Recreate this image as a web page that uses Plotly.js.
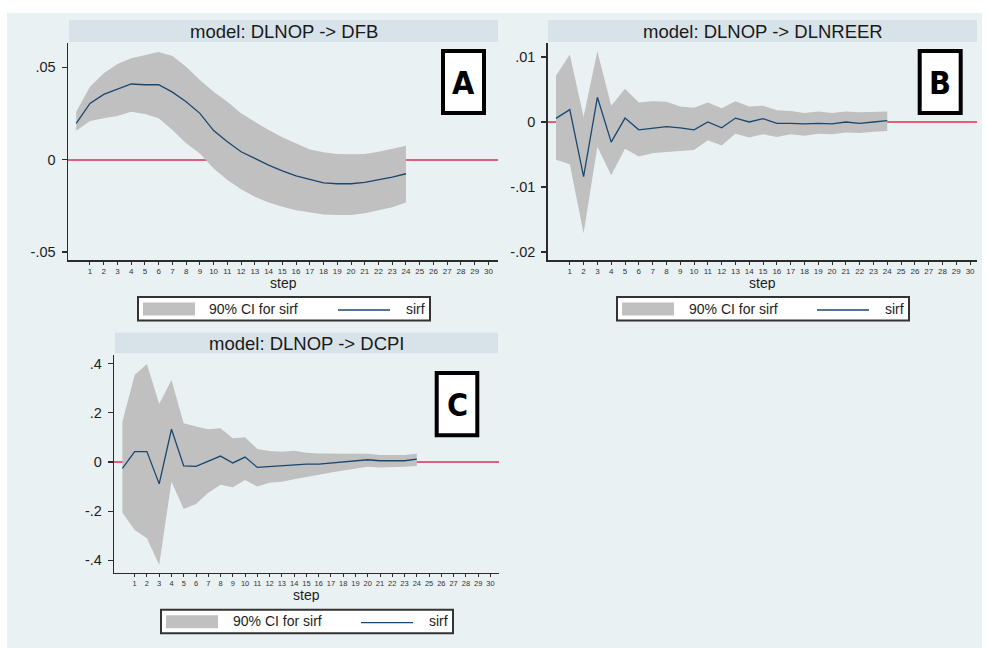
<!DOCTYPE html>
<html>
<head>
<meta charset="utf-8">
<script src="https://cdn.plot.ly/plotly-3.0.1.min.js"></script>
<style>
  html, body { margin: 0; padding: 0; background: #ffffff; }
  #chart { width: 986px; height: 648px; }
</style>
</head>
<body>
<div id="chart"></div>
<script>
// ---------------- DATA ----------------
const steps = [0,1,2,3,4,5,6,7,8,9,10,11,12,13,14,15,16,17,18,19,20,21,22,23,24];

// Panel A: DLNOP -> DFB
const dfbIrf   = [0.0197,0.0305,0.0354,0.0383,0.0410,0.0406,0.0406,0.0366,0.0314,0.0251,0.0158,0.0097,0.0043,0.0007,-0.0029,-0.0060,-0.0087,-0.0106,-0.0125,-0.0130,-0.0130,-0.0123,-0.0110,-0.0094,-0.0076];
const dfbUpper = [0.0260,0.0395,0.0468,0.0518,0.0549,0.0566,0.0583,0.0562,0.0504,0.0431,0.0368,0.0314,0.0251,0.0206,0.0161,0.0121,0.0088,0.0056,0.0040,0.0031,0.0029,0.0031,0.0043,0.0058,0.0076];
const dfbLower = [0.0157,0.0210,0.0224,0.0237,0.0260,0.0248,0.0224,0.0161,0.0089,0.0034,-0.0047,-0.0110,-0.0160,-0.0200,-0.0231,-0.0255,-0.0273,-0.0285,-0.0296,-0.0300,-0.0300,-0.0290,-0.0276,-0.0258,-0.0231];

// Panel B: DLNOP -> DLNREER
const reerIrf   = [0.00056,0.0019,-0.0084,0.0038,-0.0031,0.0006,-0.0012,-0.0009,-0.0007,-0.0009,-0.0012,0.0000,-0.0009,0.0006,0.0000,0.0005,-0.0002,-0.0002,-0.0003,-0.0002,-0.0003,0.0000,-0.0002,0.0000,0.0002];
const reerUpper = [0.0071,0.0104,0.0008,0.0109,0.0025,0.0051,0.0030,0.0032,0.0031,0.0024,0.0022,0.0030,0.0021,0.0032,0.0024,0.0025,0.0018,0.0017,0.0014,0.0016,0.0014,0.0016,0.0015,0.0016,0.0016];
const reerLower = [-0.0058,-0.0065,-0.0171,-0.0038,-0.0082,-0.0041,-0.0053,-0.0048,-0.0046,-0.0044,-0.0043,-0.0028,-0.0036,-0.0018,-0.0024,-0.0019,-0.0023,-0.0019,-0.0021,-0.0018,-0.0019,-0.0016,-0.0017,-0.0015,-0.0014];

// Panel C: DLNOP -> DCPI
const cpiIrf   = [-0.026,0.042,0.042,-0.089,0.133,-0.016,-0.018,0.003,0.024,-0.004,0.020,-0.022,-0.018,-0.016,-0.011,-0.009,-0.009,-0.005,-0.001,0.004,0.009,0.005,0.005,0.005,0.012];
const cpiUpper = [0.164,0.354,0.398,0.236,0.333,0.157,0.144,0.133,0.137,0.096,0.100,0.053,0.045,0.042,0.046,0.038,0.034,0.034,0.033,0.031,0.033,0.028,0.028,0.028,0.033];
const cpiLower = [-0.206,-0.276,-0.310,-0.419,-0.080,-0.191,-0.171,-0.125,-0.093,-0.103,-0.073,-0.100,-0.084,-0.080,-0.070,-0.060,-0.053,-0.043,-0.035,-0.026,-0.019,-0.022,-0.022,-0.019,-0.016];

// Titles / labels
const panelTitles = ["model: DLNOP -> DFB", "model: DLNOP -> DLNREER", "model: DLNOP -> DCPI"];
const panelLetters = ["A", "B", "C"];
const xTickVals = [1,2,3,4,5,6,7,8,9,10,11,12,13,14,15,16,17,18,19,20,21,22,23,24,25,26,27,28,29,30];
const xTickText = ["1","2","3","4","5","6","7","8","9","10","11","12","13","14","15","16","17","18","19","20","21","22","23","24","25","26","27","28","29","30"];
const yTickValsA = [-0.05, 0, 0.05];
const yTickTextA = ["-.05", "0", ".05"];
const yTickValsB = [-0.02, -0.01, 0, 0.01];
const yTickTextB = ["-.02", "-.01", "0", ".01"];
const yTickValsC = [-0.4, -0.2, 0, 0.2, 0.4];
const yTickTextC = ["-.4", "-.2", "0", ".2", ".4"];
const xTitle = "step";
const legendCI = "90% CI for sirf";
const legendLine = "sirf";

// ---------------- STYLE ----------------
const W = 986, H = 648;
const FONT = "Liberation Sans, Arial, sans-serif";
const BG = "#e9f1f3";
const BAND = "#d7e3e9";
const CI_COL = "#c0c0c0";
const LINE_COL = "#1a476f";
const ZERO_COL = "#e0607a";
const AXIS_COL = "#2b2b2b";
const GRID_COL = "#eaf2f3";

const px = x => x / W;
const py = y => 1 - y / H;

// panel geometry in pixels
const panels = [
  { x0: 68,    x1: 498,  y0: 43,    y1: 260,   xr: [-0.6, 30.7],  yr: [-0.0543, 0.0632],  tv: yTickValsA, tt: yTickTextA, xfs: 8,
    bar: [69, 498, 20, 42],   letter: [441, 486, 49, 115],  stepXY: [283, 283],   leg: [137, 296] },
  { x0: 547.7, x1: 977,  y0: 43,    y1: 260,   xr: [-0.6, 30.5],  yr: [-0.02123, 0.01215], tv: yTickValsB, tt: yTickTextB, xfs: 8,
    bar: [548, 977, 20, 42],  letter: [917.7, 962.7, 49, 115], stepXY: [762.5, 283], leg: [616, 296] },
  { x0: 114.3, x1: 499,  y0: 354.7, y1: 572.7, xr: [-0.66, 30.7], yr: [-0.45, 0.436],     tv: yTickValsC, tt: yTickTextC, xfs: 7.5,
    bar: [115, 498, 332.7, 353.3], letter: [434.7, 479.3, 371, 437.3], stepXY: [306.7, 594.5], leg: [160, 608.7] }
];

const series = [
  { irf: dfbIrf,  up: dfbUpper,  lo: dfbLower },
  { irf: reerIrf, up: reerUpper, lo: reerLower },
  { irf: cpiIrf,  up: cpiUpper,  lo: cpiLower }
];

// ---------------- TRACES ----------------
const traces = [];
series.forEach((s, i) => {
  const xa = i === 0 ? "x" : "x" + (i + 1);
  const ya = i === 0 ? "y" : "y" + (i + 1);
  traces.push({ x: steps, y: s.lo, xaxis: xa, yaxis: ya, type: "scatter", mode: "lines",
    line: { width: 0, color: CI_COL }, showlegend: false, hoverinfo: "skip" });
  traces.push({ x: steps, y: s.up, xaxis: xa, yaxis: ya, type: "scatter", mode: "lines",
    line: { width: 0, color: CI_COL }, fill: "tonexty", fillcolor: CI_COL, showlegend: false, hoverinfo: "skip" });
  traces.push({ x: steps, y: s.irf, xaxis: xa, yaxis: ya, type: "scatter", mode: "lines",
    line: { width: 1.3, color: LINE_COL }, showlegend: false });
});

// ---------------- LAYOUT ----------------
const layout = {
  width: W, height: H,
  margin: { l: 0, r: 0, t: 0, b: 0, pad: 0 },
  paper_bgcolor: "#ffffff",
  plot_bgcolor: "#ffffff",
  showlegend: false,
  font: { family: FONT, color: "#1e1e1e" },
  shapes: [],
  annotations: []
};

// outer light background
layout.shapes.push({ type: "rect", xref: "paper", yref: "paper", layer: "below",
  x0: px(7), x1: px(982), y0: py(648), y1: py(13), fillcolor: BG, line: { width: 0 } });

panels.forEach((p, i) => {
  const suf = i === 0 ? "" : String(i + 1);
  layout["xaxis" + suf] = {
    domain: [px(p.x0), px(p.x1)], anchor: "y" + suf, range: p.xr,
    tickmode: "array", tickvals: xTickVals, ticktext: xTickText,
    ticks: "outside", ticklen: 3, tickwidth: 1, tickcolor: AXIS_COL,
    tickfont: { size: p.xfs, color: "#333333", family: FONT },
    showgrid: false, zeroline: false, showline: true, linecolor: AXIS_COL, linewidth: 1.5,
    fixedrange: true
  };
  layout["yaxis" + suf] = {
    domain: [py(p.y1), py(p.y0)], anchor: "x" + suf, range: p.yr,
    tickmode: "array", tickvals: p.tv, ticktext: p.tt,
    ticks: "outside", ticklen: 5, tickwidth: 1.2, tickcolor: AXIS_COL,
    tickfont: { size: 14.5, color: "#1e1e1e", family: FONT },
    ticklabelstandoff: 3,
    showgrid: true, gridcolor: GRID_COL, gridwidth: 1.2,
    zeroline: true, zerolinecolor: ZERO_COL, zerolinewidth: 1.6,
    showline: true, linecolor: AXIS_COL, linewidth: 1.5,
    fixedrange: true
  };

  // title band
  layout.shapes.push({ type: "rect", xref: "paper", yref: "paper", layer: "below",
    x0: px(p.bar[0]), x1: px(p.bar[1]), y0: py(p.bar[3]), y1: py(p.bar[2]),
    fillcolor: BAND, line: { width: 0 } });
  layout.annotations.push({ xref: "paper", yref: "paper",
    x: px((p.bar[0] + p.bar[1]) / 2), y: py((p.bar[2] + p.bar[3]) / 2 + 0.5),
    text: panelTitles[i], showarrow: false, xanchor: "center", yanchor: "middle",
    font: { size: 18.5, color: "#1a1a1a", family: FONT } });

  // step label
  layout.annotations.push({ xref: "paper", yref: "paper",
    x: px(p.stepXY[0]), y: py(p.stepXY[1]), text: xTitle, showarrow: false,
    xanchor: "center", yanchor: "middle", height: 14, valign: "middle",
    font: { size: 14, color: "#1e1e1e", family: FONT } });

  // letter box
  const L = p.letter;
  layout.shapes.push({ type: "rect", xref: "paper", yref: "paper", layer: "above",
    x0: px(L[0] + 2), x1: px(L[1] - 2), y0: py(L[3] - 2), y1: py(L[2] + 2),
    fillcolor: "#ffffff", line: { width: 4, color: "#000000" } });
  layout.annotations.push({ xref: "paper", yref: "paper",
    x: px((L[0] + L[1]) / 2), y: py((L[2] + L[3]) / 2 + 1), text: "<b>" + panelLetters[i] + "</b>",
    showarrow: false, xanchor: "center", yanchor: "middle",
    font: { size: 32, color: "#000000", family: "Liberation Sans Narrow, DejaVu Sans Condensed, Arial Narrow, sans-serif" } });

  // legend box
  const lx = p.leg[0], ly = p.leg[1];
  layout.shapes.push({ type: "rect", xref: "paper", yref: "paper", layer: "above",
    x0: px(lx + 1), x1: px(lx + 293), y0: py(ly + 24.5), y1: py(ly + 1),
    fillcolor: "#ffffff", line: { width: 2, color: "#333333" } });
  layout.shapes.push({ type: "rect", xref: "paper", yref: "paper", layer: "above",
    x0: px(lx + 6), x1: px(lx + 58), y0: py(ly + 19.5), y1: py(ly + 6.5),
    fillcolor: CI_COL, line: { width: 0 } });
  layout.shapes.push({ type: "line", xref: "paper", yref: "paper", layer: "above",
    x0: px(lx + 201), x1: px(lx + 253), y0: py(ly + 14), y1: py(ly + 14),
    line: { width: 1.3, color: LINE_COL } });
  layout.annotations.push({ xref: "paper", yref: "paper",
    x: px(lx + 117), y: py(ly + 12.5), text: legendCI, showarrow: false,
    xanchor: "center", yanchor: "middle", font: { size: 14, color: "#1e1e1e", family: FONT } });
  layout.annotations.push({ xref: "paper", yref: "paper",
    x: px(lx + 278), y: py(ly + 12.5), text: legendLine, showarrow: false,
    xanchor: "center", yanchor: "middle", font: { size: 14, color: "#1e1e1e", family: FONT } });
});

Plotly.newPlot("chart", traces, layout, { staticPlot: true, displayModeBar: false });
</script>
</body>
</html>
